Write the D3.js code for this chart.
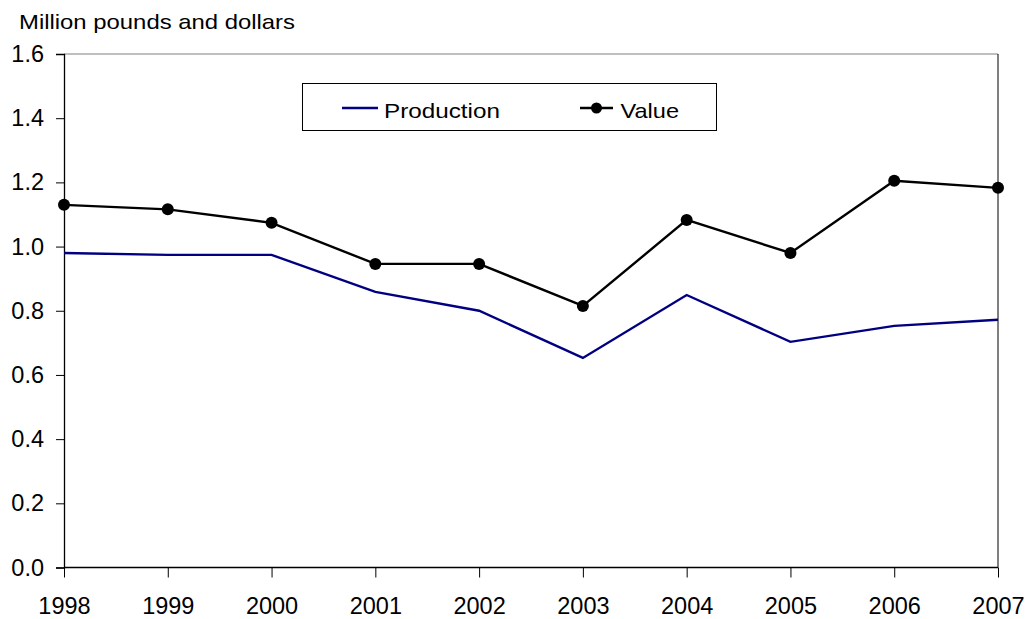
<!DOCTYPE html>
<html><head><meta charset="utf-8">
<script src="https://cdn.jsdelivr.net/npm/d3@7"></script>
<style>body{margin:0;background:#fff}svg{display:block}</style>
</head><body>
<svg id="c" width="1028" height="619"></svg>
<script>
const years = [1998,1999,2000,2001,2002,2003,2004,2005,2006,2007];
const production = [0.98,0.974,0.974,0.859,0.80,0.653,0.849,0.703,0.753,0.772];
const value = [1.13,1.116,1.074,0.946,0.946,0.815,1.083,0.98,1.205,1.183];
const yTicks = [0,0.2,0.4,0.6,0.8,1.0,1.2,1.4,1.6];

const svg = d3.select("#c");
const font = "Liberation Sans, Arial, sans-serif";
const L=64, R=998, T=54, B=567.5;
const x = d3.scalePoint().domain(years).range([L,R]);
const y = d3.scaleLinear().domain([0,1.6]).range([B,T]);

// plot border
svg.append("line").attr("x1",L).attr("x2",R).attr("y1",T).attr("y2",T).attr("stroke","#808080").attr("stroke-width",1.2);
svg.append("line").attr("x1",R).attr("x2",R).attr("y1",T).attr("y2",B).attr("stroke","#000").attr("stroke-width",1);

const yAxis = d3.axisLeft(y).tickValues(yTicks).tickFormat(d3.format(".1f")).tickSize(8).tickPadding(12);
const gy = svg.append("g").attr("transform",`translate(${L},0)`).call(yAxis);
gy.select(".domain").attr("stroke","#000").attr("stroke-width",1.3);
gy.selectAll(".tick line").attr("stroke","#000");
gy.selectAll("text").attr("font-family",font).attr("font-size",23.5).attr("fill","#000");

const xAxis = d3.axisBottom(x).tickSize(10).tickPadding(20);
const gx = svg.append("g").attr("transform",`translate(0,${B})`).call(xAxis);
gx.select(".domain").attr("stroke","#000").attr("stroke-width",1.3).attr("d",`M${L},0H${R}`);
gx.selectAll(".tick line").attr("stroke","#000");
gx.selectAll("text").attr("font-family",font).attr("font-size",23.5).attr("fill","#000");

svg.append("text").attr("x",19).attr("y",28.5).attr("font-family",font).attr("font-size",21)
  .attr("textLength",276).attr("lengthAdjust","spacingAndGlyphs").text("Million pounds and dollars");

const line = d3.line().x((d,i)=>x(years[i])).y(d=>y(d));
svg.append("path").datum(production).attr("d",line).attr("fill","none").attr("stroke","#000080").attr("stroke-width",2.4);
svg.append("path").datum(value).attr("d",line).attr("fill","none").attr("stroke","#000").attr("stroke-width",2.4);
svg.selectAll("circle.v").data(value).enter().append("circle").attr("class","v")
  .attr("cx",(d,i)=>x(years[i])).attr("cy",d=>y(d)).attr("r",6).attr("fill","#000");

// legend
const lg = svg.append("g");
lg.append("rect").attr("x",302.5).attr("y",83.5).attr("width",414).attr("height",47).attr("fill","#fff").attr("stroke","#000").attr("stroke-width",1);
lg.append("line").attr("x1",342).attr("x2",378).attr("y1",108).attr("y2",108).attr("stroke","#000080").attr("stroke-width",2.4);
lg.append("text").attr("x",384).attr("y",118).attr("font-family",font).attr("font-size",21)
  .attr("textLength",116).attr("lengthAdjust","spacingAndGlyphs").text("Production");
lg.append("line").attr("x1",580).attr("x2",613).attr("y1",108).attr("y2",108).attr("stroke","#000").attr("stroke-width",2.4);
lg.append("circle").attr("cx",596.5).attr("cy",108).attr("r",5.5).attr("fill","#000");
lg.append("text").attr("x",620.5).attr("y",118).attr("font-family",font).attr("font-size",21)
  .attr("textLength",58.5).attr("lengthAdjust","spacingAndGlyphs").text("Value");
</script>
</body></html>
